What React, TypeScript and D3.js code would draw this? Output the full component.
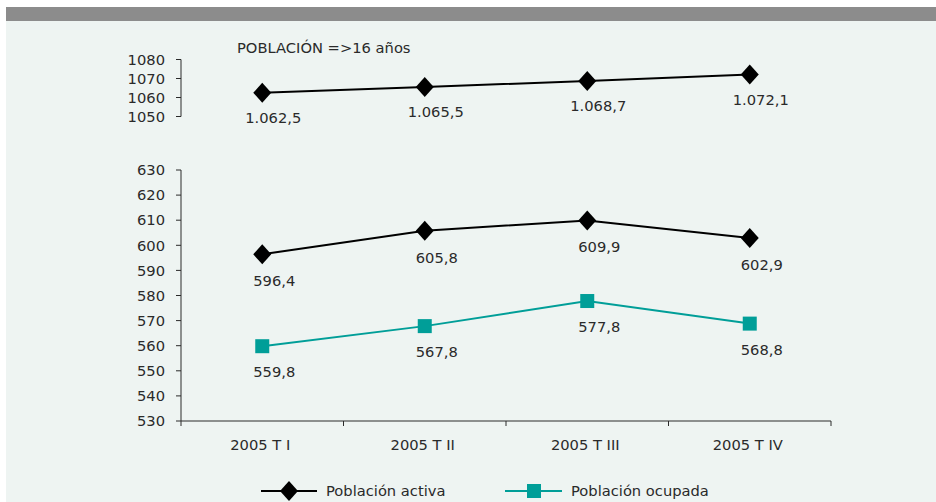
import React from "react";
import * as d3 from "d3";

const categories = ["2005 T I", "2005 T II", "2005 T III", "2005 T IV"];
const poblacion16 = [1062.5, 1065.5, 1068.7, 1072.1];
const poblacion16Labels = ["1.062,5", "1.065,5", "1.068,7", "1.072,1"];
const activa = [596.4, 605.8, 609.9, 602.9];
const ocupada = [559.8, 567.8, 577.8, 568.8];
const topTicks = [1050, 1060, 1070, 1080];
const bottomTicks = [530, 540, 550, 560, 570, 580, 590, 600, 610, 620, 630];
const seriesNames = ["Población activa", "Población ocupada"];
const title = "POBLACIÓN =>16 años";

const W = 936;
const H = 502;
const FONT = "'DejaVu Sans', sans-serif";
const FS = 14.7;
const TEXT = "#2a2a2a";
const TEAL = "#009e98";
const fmt = (v: number) => v.toFixed(1).replace(".", ",");

export default function App() {
  const x = d3.scaleBand<string>().domain(categories).range([181, 831]).padding(0);
  const cx = (c: string) => (x(c) as number) + x.bandwidth() / 2;
  const yTop = d3.scaleLinear().domain([1050, 1080]).range([116.5, 59.5]);
  const yBot = d3.scaleLinear().domain([530, 630]).range([421, 170]);
  const line = (ys: d3.ScaleLinear<number, number>, vals: number[]) =>
    d3.line<number>().x((_, i) => cx(categories[i])).y((v) => ys(v))(vals) as string;
  const diamond = (px: number, py: number, r: number) =>
    `M${px},${py - r}L${px + r * 0.9},${py}L${px},${py + r}L${px - r * 0.9},${py}Z`;

  const boundaries = [...categories.map((c) => x(c) as number), 831];

  return (
    <svg width={W} height={H} style={{ position: "absolute", left: 0, top: 0 }} fontFamily={FONT}>
      <rect x={0} y={0} width={W} height={H} fill="#ffffff" />
      <rect x={6} y={7} width={W - 6} height={H - 7} fill="#eef4f2" />
      <rect x={6} y={7} width={W - 6} height={14} fill="#8c8c8c" />

      <text x={237} y={52.7} fontSize={FS} fill={TEXT}>{title}</text>

      {/* top axis */}
      <line x1={181} x2={181} y1={yTop(1050)} y2={yTop(1080)} stroke={TEXT} strokeWidth={1} />
      {topTicks.map((t) => (
        <g key={t}>
          <line x1={176} x2={181} y1={yTop(t)} y2={yTop(t)} stroke={TEXT} />
          <text x={165} y={yTop(t)} dy="0.36em" textAnchor="end" fontSize={FS} fill={TEXT}>{t}</text>
        </g>
      ))}
      <path d={line(yTop, poblacion16)} fill="none" stroke="#000" strokeWidth={2} />
      {poblacion16.map((v, i) => (
        <g key={i}>
          <path d={diamond(cx(categories[i]), yTop(v), 10)} fill="#000" />
          <text x={cx(categories[i]) + 11} y={yTop(v) + 30} textAnchor="middle" fontSize={FS} fill={TEXT}>
            {poblacion16Labels[i]}
          </text>
        </g>
      ))}

      {/* bottom axis */}
      <line x1={181} x2={181} y1={yBot(530)} y2={yBot(630)} stroke={TEXT} />
      {bottomTicks.map((t) => (
        <g key={t}>
          <line x1={176} x2={181} y1={yBot(t)} y2={yBot(t)} stroke={TEXT} />
          <text x={165} y={yBot(t)} dy="0.36em" textAnchor="end" fontSize={FS} fill={TEXT}>{t}</text>
        </g>
      ))}
      <line x1={181} x2={831} y1={yBot(530)} y2={yBot(530)} stroke={TEXT} />
      {boundaries.map((b, i) => (
        <line key={i} x1={b} x2={b} y1={yBot(530)} y2={yBot(530) + 5} stroke={TEXT} />
      ))}
      {categories.map((c) => (
        <text key={c} x={cx(c) - 2} y={450} textAnchor="middle" fontSize={FS} fill={TEXT}>{c}</text>
      ))}

      <path d={line(yBot, activa)} fill="none" stroke="#000" strokeWidth={2} />
      <path d={line(yBot, ocupada)} fill="none" stroke={TEAL} strokeWidth={2} />
      {activa.map((v, i) => (
        <g key={"a" + i}>
          <path d={diamond(cx(categories[i]), yBot(v), 10)} fill="#000" />
          <text x={cx(categories[i]) + 12} y={yBot(v) + 32} textAnchor="middle" fontSize={FS} fill={TEXT}>{fmt(v)}</text>
        </g>
      ))}
      {ocupada.map((v, i) => (
        <g key={"o" + i}>
          <rect x={cx(categories[i]) - 7} y={yBot(v) - 7} width={14} height={14} fill={TEAL} />
          <text x={cx(categories[i]) + 12} y={yBot(v) + 31} textAnchor="middle" fontSize={FS} fill={TEXT}>{fmt(v)}</text>
        </g>
      ))}

      {/* legend */}
      <line x1={261} x2={317} y1={491} y2={491} stroke="#000" strokeWidth={2} />
      <path d={diamond(289, 491, 10)} fill="#000" />
      <text x={326} y={496} fontSize={FS} fill={TEXT}>{seriesNames[0]}</text>
      <line x1={505} x2={562} y1={491} y2={491} stroke={TEAL} strokeWidth={2} />
      <rect x={527} y={484} width={14} height={14} fill={TEAL} />
      <text x={571} y={496} fontSize={FS} fill={TEXT}>{seriesNames[1]}</text>
    </svg>
  );
}
